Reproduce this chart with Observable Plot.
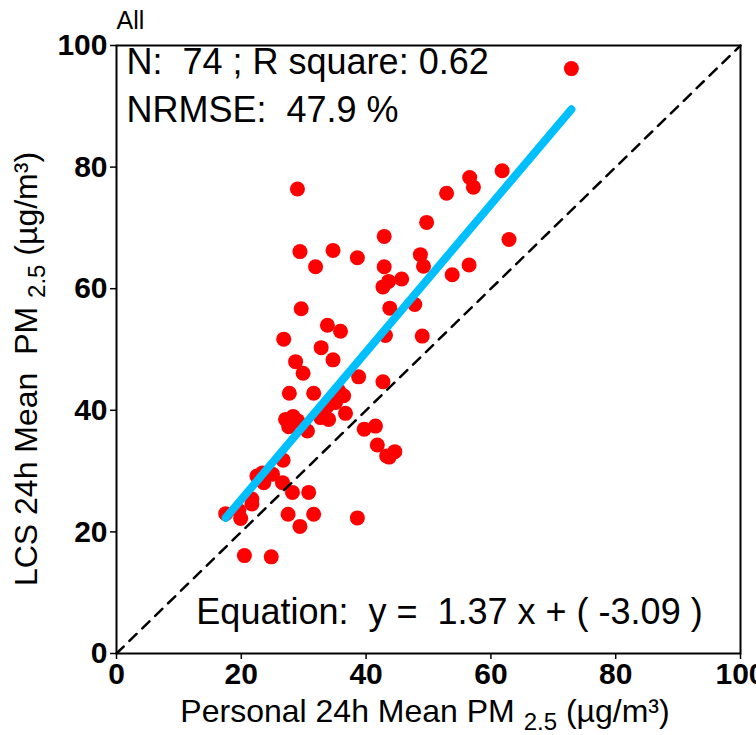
<!DOCTYPE html>
<html>
<head>
<meta charset="utf-8">
<script src="https://cdn.jsdelivr.net/npm/d3@7"></script>
<script src="https://cdn.jsdelivr.net/npm/@observablehq/plot@0.6"></script>
<style>
  html, body { margin: 0; padding: 0; background: #fff; }
  #chart svg { display: block; }
</style>
</head>
<body>
<div id="chart"></div>
<script>
// Personal 24h mean PM2.5 (x) vs LCS 24h mean PM2.5 (y)
const personal = [72.9, 29.0, 61.8, 56.6, 57.2, 52.9, 49.7, 62.9, 42.9, 29.4,
  34.7, 38.6, 48.7, 31.9, 42.9, 49.2, 56.5, 53.8, 45.7, 43.6,
  42.7, 43.8, 47.8, 29.6, 33.8, 35.9, 26.8, 43.1, 49.0, 32.8,
  28.7, 34.7, 29.9, 38.8, 42.7, 27.7, 31.6, 35.6, 35.1, 36.7,
  32.7, 34.0, 27.1, 28.3, 27.6, 30.6, 39.7, 41.5, 41.8, 43.7,
  44.6, 26.7, 22.5, 25.0, 23.6, 26.6, 28.2, 30.8, 21.7, 21.7,
  17.5, 19.6, 19.9, 27.5, 31.6, 29.4, 38.6, 20.5, 24.8, 33.8,
  29.0, 23.4, 36.4, 43.3];
const lcs = [96.2, 76.4, 79.4, 78.3, 76.7, 75.7, 70.9, 68.1, 68.6, 66.1,
  66.3, 65.1, 65.6, 63.6, 63.6, 63.7, 63.9, 62.3, 61.6, 61.2,
  60.3, 56.8, 57.4, 56.7, 54.0, 53.0, 51.7, 52.3, 52.2, 50.3,
  48.0, 48.3, 46.1, 45.5, 44.7, 42.8, 42.8, 43.2, 41.3, 39.5,
  38.8, 38.5, 38.5, 39.0, 37.3, 36.6, 36.9, 37.4, 34.3, 32.3,
  33.2, 31.8, 29.2, 29.5, 28.1, 28.1, 26.5, 26.5, 25.4, 24.6,
  23.0, 23.5, 22.2, 22.9, 22.9, 20.9, 22.3, 16.1, 15.9, 40.7,
  38.3, 29.7, 42.4, 32.5];

// fitted line as drawn (end points), and 1:1 reference line
const fitX = [17.5, 72.9];
const fitY = [22.3, 89.5];
const diagX = [0, 100];
const diagY = [0, 100];

const ticks = [0, 20, 40, 60, 80, 100];

const panelTitle = "All";
const statLine1 = "N:  74 ; R square: 0.62";
const statLine2 = "NRMSE:  47.9 %";
const equation = "Equation:  y =  1.37 x + ( -3.09 )";

const points = personal.map((x, i) => ({x, y: lcs[i]}));
const fit = fitX.map((x, i) => ({x, y: fitY[i]}));
const diag = diagX.map((x, i) => ({x, y: diagY[i]}));

const FONT = "'Liberation Sans', Arial, Helvetica, sans-serif";

const chart = Plot.plot({
  width: 756,
  height: 735,
  marginLeft: 116,
  marginRight: 16,
  marginTop: 45,
  marginBottom: 82,
  style: { fontFamily: FONT, background: "white", color: "black" },
  x: { domain: [0, 100] },
  y: { domain: [0, 100] },
  marks: [
    Plot.axisX({ticks, tickSize: 6, tickPadding: 3, fontSize: 30, fontWeight: "bold", label: null, strokeWidth: 1.5}),
    Plot.axisY({ticks, tickSize: 6, tickPadding: 3, fontSize: 30, fontWeight: "bold", label: null, strokeWidth: 1.5}),
    Plot.dot(points, {x: "x", y: "y", r: 7.5, fill: "#ff0000", stroke: "none"}),
    Plot.line(diag, {x: "x", y: "y", stroke: "black", strokeWidth: 2.5, strokeDasharray: "10,8"}),
    Plot.line(fit, {x: "x", y: "y", stroke: "#00bfff", strokeWidth: 8}),
    Plot.frame({stroke: "black", strokeWidth: 2}),
    Plot.text([statLine1], {frameAnchor: "top-left", text: d => d, textAnchor: "start", lineAnchor: "top", dx: 10, dy: 3, fontSize: 36}),
    Plot.text([statLine2], {frameAnchor: "top-left", text: d => d, textAnchor: "start", lineAnchor: "top", dx: 10, dy: 51, fontSize: 36}),
    Plot.text([equation], {frameAnchor: "bottom", text: d => d, textAnchor: "middle", lineAnchor: "bottom", dx: 21, dy: -30, fontSize: 36}),
    Plot.text([panelTitle], {frameAnchor: "top-left", text: d => d, textAnchor: "start", lineAnchor: "bottom", dx: 0, dy: -17, fontSize: 25})
  ]
});

document.getElementById("chart").appendChild(chart);

// axis titles with subscripts
const svg = d3.select(chart);
const xs = chart.scale("x");
const cx = (xs.range[0] + xs.range[1]) / 2;
const xl = svg.append("text")
  .attr("x", cx - 3).attr("y", 722)
  .attr("text-anchor", "middle")
  .attr("font-family", FONT).attr("font-size", 32).attr("fill", "black");
xl.append("tspan").text("Personal 24h Mean PM ");
xl.append("tspan").attr("font-size", 24).attr("dy", 8).text("2.5");
xl.append("tspan").attr("dy", -8).text(" (µg/m³)");

const yl = svg.append("text")
  .attr("transform", `translate(37, 369) rotate(-90)`)
  .attr("text-anchor", "middle")
  .attr("font-family", FONT).attr("font-size", 32).attr("fill", "black");
yl.append("tspan").text("LCS 24h Mean  PM ");
yl.append("tspan").attr("font-size", 24).attr("dy", 8).text("2.5");
yl.append("tspan").attr("dy", -8).text(" (µg/m³)");
</script>
</body>
</html>
